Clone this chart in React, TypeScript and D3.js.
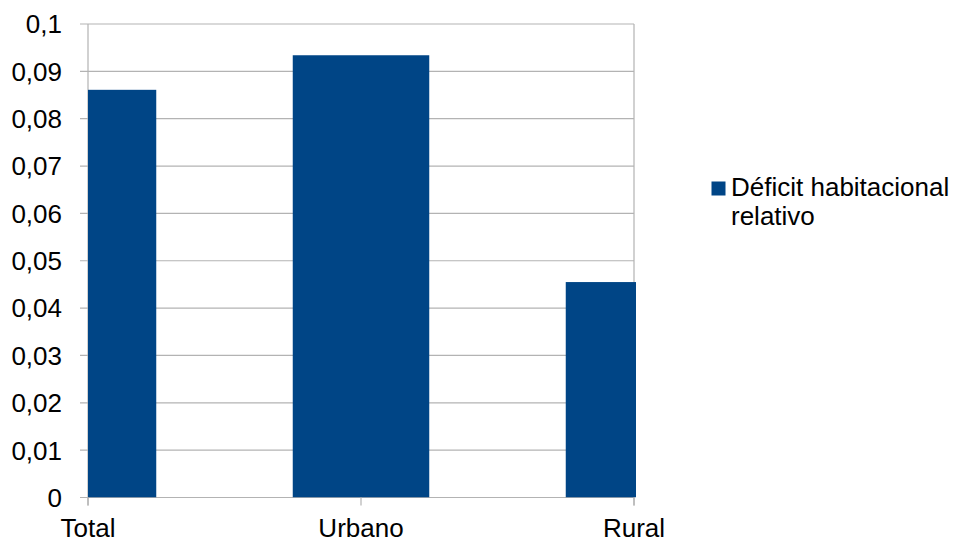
import React from "react";
import * as d3 from "d3";

const categories = ["Total", "Urbano", "Rural"];
const values = [0.0861, 0.0934, 0.0455];
const seriesName = ["Déficit habitacional", "relativo"];
const yTicks = [0, 0.01, 0.02, 0.03, 0.04, 0.05, 0.06, 0.07, 0.08, 0.09, 0.1];

const W = 958, H = 542;
const left = 88, right = 634, top = 24, bottom = 497.5;
const color = "#004586";
const grid = "#b3b3b3";
const font = "'Liberation Sans', Arial, sans-serif";
const fs = 26;

export default function App() {
  const x = d3.scalePoint<string>().domain(categories).range([left, right]).padding(0);
  const y = d3.scaleLinear().domain([0, 0.1]).range([bottom, top]);
  const bw = x.step() / 2;
  const fmt = (v: number) => d3.format(".2~f")(v).replace(".", ",");
  return (
    <svg width={W} height={H} style={{ position: "absolute", left: 0, top: 0 }} fontFamily={font}>
      <defs>
        <clipPath id="plot">
          <rect x={left} y={top} width={right - left + 2} height={bottom - top} />
        </clipPath>
      </defs>
      {yTicks.map((t) => (
        <g key={t}>
          <line x1={left - 8} x2={right} y1={y(t)} y2={y(t)} stroke={grid} strokeWidth={1.2} />
          <text x={62} y={y(t)} dy="0.36em" textAnchor="end" fontSize={fs} fill="#000">
            {fmt(t)}
          </text>
        </g>
      ))}
      <line x1={left} x2={left} y1={top} y2={bottom + 8} stroke={grid} strokeWidth={1.2} />
      <line x1={right} x2={right} y1={top} y2={bottom + 8} stroke={grid} strokeWidth={1.2} />
      <g clipPath="url(#plot)">
        {categories.map((c, i) => (
          <rect key={c} x={x(c)! - bw / 2} y={y(values[i])} width={bw} height={bottom - y(values[i])} fill={color} />
        ))}
      </g>
      {categories.map((c) => (
        <g key={c}>
          <line x1={x(c)} x2={x(c)} y1={bottom} y2={bottom + 8} stroke={grid} strokeWidth={1.2} />
          <text x={x(c)} y={536.5} textAnchor="middle" fontSize={fs} fill="#000">
            {c}
          </text>
        </g>
      ))}
      <rect x={711.5} y={181.5} width={14} height={14} fill={color} />
      <text x={731} y={196} fontSize={fs} fill="#000">{seriesName[0]}</text>
      <text x={731} y={225} fontSize={fs} fill="#000">{seriesName[1]}</text>
    </svg>
  );
}
